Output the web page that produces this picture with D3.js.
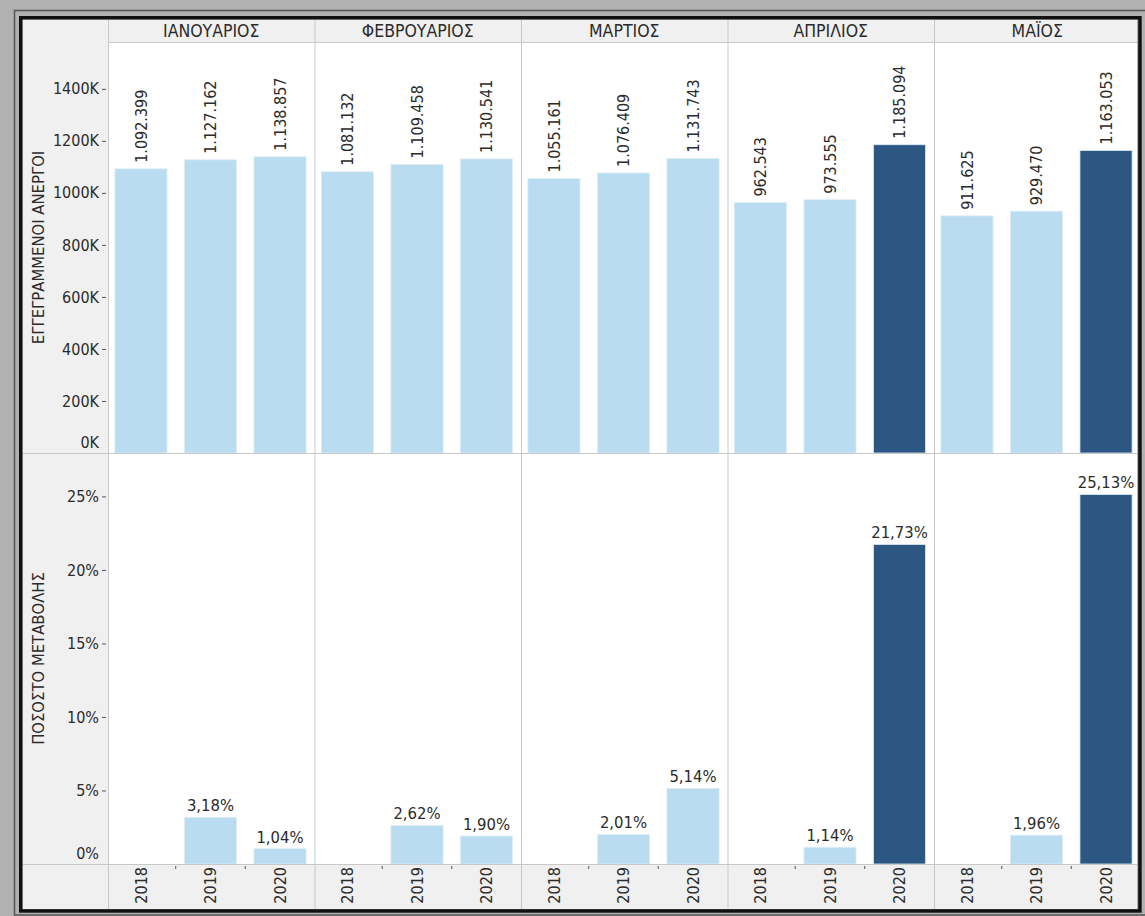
<!DOCTYPE html>
<html>
  <head>
    <meta charset="utf-8">
    <title>Εγγεγραμμένοι άνεργοι</title>
    <script type="text/javascript" src="https://d3js.org/d3.v7.min.js"></script>
    <style>
      body { margin: 0; background: #b1b1b1; }
      svg text { font-family: "DejaVu Sans Condensed", "DejaVu Sans", sans-serif; fill: #2b2b2b; }
    </style>
  </head>
  <body>
    <script type="text/javascript">

      // data
      var months = ["ΙΑΝΟΥΑΡΙΟΣ", "ΦΕΒΡΟΥΑΡΙΟΣ", "ΜΑΡΤΙΟΣ", "ΑΠΡΙΛΙΟΣ", "ΜΑΪΟΣ"];
      var years = ["2018", "2019", "2020"];
      var unemployed2018 = [1092399, 1081132, 1055161, 962543, 911625];
      var unemployed2019 = [1127162, 1109458, 1076409, 973555, 929470];
      var unemployed2020 = [1138857, 1130541, 1131743, 1185094, 1163053];
      var change2019 = [3.18, 2.62, 2.01, 1.14, 1.96];
      var change2020 = [1.04, 1.90, 5.14, 21.73, 25.13];
      var highlight2020 = [false, false, false, true, true];
      var topTicks = [0, 200000, 400000, 600000, 800000, 1000000, 1200000, 1400000];
      var bottomTicks = [0, 5, 10, 15, 20, 25];

      var width = 1145;
      var height = 916;

      // note: "top" is taken by window.top, so the edges get their own names
      var boxL = 22.5, boxT = 19.5, boxR = 1137, boxB = 909;
      var headerX = 108;
      var headerBottom = 42;
      var midY = 453;
      var plotBottom = 864;
      var panelW = 206.5;

      var lightBlue = "#b9dcf0";
      var darkBlue = "#2c5783";
      var gridColor = "#c8c8c8";

      var rows = [];
      for (var i = 0; i < months.length; i++) {
        rows.push({month: months[i], year: "2018", value: unemployed2018[i], change: null, dark: false});
        rows.push({month: months[i], year: "2019", value: unemployed2019[i], change: change2019[i], dark: false});
        rows.push({month: months[i], year: "2020", value: unemployed2020[i], change: change2020[i], dark: highlight2020[i]});
      }

      var locale = d3.formatLocale({decimal: ",", thousands: ".", grouping: [3], currency: ["", "€"]});
      var fmtValue = locale.format(",d");
      var fmtPct = locale.format(".2f");

      var svg = d3.select("body")
        .append("svg")
        .attr("width", width)
        .attr("height", height)
        .style("display", "block");

      // window frame
      svg.append("rect")
        .attr("x", 0).attr("y", 0)
        .attr("width", width).attr("height", height)
        .attr("fill", "#b1b1b1");
      svg.append("rect")
        .attr("x", 14.5).attr("y", 10.5)
        .attr("width", 1135).attr("height", 904.5)
        .attr("fill", "none")
        .attr("stroke", "#555")
        .attr("stroke-width", 1.5);
      svg.append("rect")
        .attr("x", boxL).attr("y", boxT)
        .attr("width", boxR - boxL).attr("height", boxB - boxT)
        .attr("fill", "#f0f0f0");

      var xPanel = d3.scaleBand()
        .domain(months)
        .range([headerX, headerX + panelW * months.length]);

      var xYear = d3.scaleBand()
        .domain(years)
        .range([0, panelW])
        .paddingInner(0.25)
        .paddingOuter(0.11)
        .align(0.45);

      var yTop = d3.scaleLinear().domain([0, 1580000]).range([midY, headerBottom]);
      var yBot = d3.scaleLinear().domain([0, 27.95]).range([plotBottom, midY]);

      svg.append("clipPath").attr("id", "clip")
        .append("rect")
        .attr("x", boxL).attr("y", boxT)
        .attr("width", boxR - boxL).attr("height", boxB - boxT);
      var content = svg.append("g").attr("clip-path", "url(#clip)");

      // white plot area
      content.append("rect")
        .attr("x", headerX).attr("y", headerBottom)
        .attr("width", boxR - headerX).attr("height", plotBottom - headerBottom)
        .attr("fill", "#fff");

      function barX(d) { return xPanel(d.month) + xYear(d.year); }

      // upper bars
      content.selectAll(".bar-top")
        .data(rows)
        .enter()
        .append("rect")
        .attr("class", "bar-top")
        .attr("x", barX)
        .attr("y", function(d) { return yTop(d.value); })
        .attr("width", xYear.bandwidth())
        .attr("height", function(d) { return midY - yTop(d.value); })
        .attr("fill", function(d) { return d.dark ? darkBlue : lightBlue; })
        .attr("stroke", "#dcecf8")
        .attr("stroke-width", 0.8);

      content.selectAll(".lbl-top")
        .data(rows)
        .enter()
        .append("text")
        .attr("class", "lbl-top")
        .attr("transform", function(d) {
          return "translate(" + (barX(d) + xYear.bandwidth() / 2) + "," + (yTop(d.value) - 6) + ") rotate(-90)";
        })
        .attr("dy", "0.35em")
        .style("font-size", "16px")
        .text(function(d) { return fmtValue(d.value); });

      // lower bars
      var changeRows = rows.filter(function(d) { return d.change !== null; });
      content.selectAll(".bar-bot")
        .data(changeRows)
        .enter()
        .append("rect")
        .attr("class", "bar-bot")
        .attr("x", barX)
        .attr("y", function(d) { return yBot(d.change); })
        .attr("width", xYear.bandwidth())
        .attr("height", function(d) { return plotBottom - yBot(d.change); })
        .attr("fill", function(d) { return d.dark ? darkBlue : lightBlue; })
        .attr("stroke", "#dcecf8")
        .attr("stroke-width", 0.8);

      content.selectAll(".lbl-bot")
        .data(changeRows)
        .enter()
        .append("text")
        .attr("class", "lbl-bot")
        .attr("x", function(d) { return barX(d) + xYear.bandwidth() / 2; })
        .attr("y", function(d) { return yBot(d.change) - 6; })
        .attr("text-anchor", "middle")
        .style("font-size", "16.5px")
        .text(function(d) { return fmtPct(d.change) + "%"; });

      // grid lines
      content.append("g")
        .selectAll("line")
        .data(months)
        .enter()
        .append("line")
        .attr("x1", function(d) { return xPanel(d) + 0.5; })
        .attr("x2", function(d) { return xPanel(d) + 0.5; })
        .attr("y1", boxT).attr("y2", boxB)
        .attr("stroke", gridColor);
      [headerBottom, midY, plotBottom].forEach(function(yy, i) {
        content.append("line")
          .attr("x1", i == 0 ? headerX : boxL).attr("x2", boxR)
          .attr("y1", yy + 0.5).attr("y2", yy + 0.5)
          .attr("stroke", gridColor);
      });

      // month headers
      content.selectAll(".month")
        .data(months)
        .enter()
        .append("text")
        .attr("class", "month")
        .attr("x", function(d) { return xPanel(d) + panelW / 2; })
        .attr("y", 31)
        .attr("dy", "0.35em")
        .attr("text-anchor", "middle")
        .style("font-size", "17.5px")
        .text(function(d) { return d; });

      // year axis at the bottom, one per panel
      months.forEach(function(m) {
        var g = content.append("g")
          .attr("transform", "translate(" + xPanel(m) + "," + plotBottom + ")");
        g.selectAll("text")
          .data(years)
          .enter()
          .append("text")
          .attr("transform", function(d) {
            return "translate(" + (xYear(d) + xYear.bandwidth() / 2) + ",3) rotate(-90)";
          })
          .attr("dy", "0.35em")
          .attr("text-anchor", "end")
          .style("font-size", "16px")
          .text(function(d) { return d; });
        g.selectAll("line")
          .data(years.slice(1))
          .enter()
          .append("line")
          .attr("x1", function(d) { return xYear(d) - xYear.step() * xYear.paddingInner() / 2; })
          .attr("x2", function(d) { return xYear(d) - xYear.step() * xYear.paddingInner() / 2; })
          .attr("y1", 2).attr("y2", 5)
          .attr("stroke", "#555");
      });

      // y axes
      var axisTop = content.append("g")
        .attr("transform", "translate(106,0)")
        .call(d3.axisLeft(yTop).tickValues(topTicks).tickSize(4).tickPadding(3)
          .tickFormat(function(d) { return (d / 1000) + "K"; }));
      var axisBot = content.append("g")
        .attr("transform", "translate(106,0)")
        .call(d3.axisLeft(yBot).tickValues(bottomTicks).tickSize(4).tickPadding(3)
          .tickFormat(function(d) { return d + "%"; }));

      [axisTop, axisBot].forEach(function(ax) {
        ax.attr("font-family", null).attr("font-size", null);
        ax.select(".domain").remove();
        ax.selectAll(".tick line").attr("stroke", "#555");
        ax.selectAll(".tick text")
          .attr("fill", "#2b2b2b")
          .style("font-size", "16px");
        // the zero label sits above the baseline, without a tick
        ax.selectAll(".tick").filter(function(d) { return d === 0; })
          .each(function() {
            d3.select(this).select("line").remove();
            d3.select(this).select("text").attr("y", -11);
          });
      });

      // axis titles
      content.append("text")
        .attr("transform", "translate(38," + ((headerBottom + midY) / 2) + ") rotate(-90)")
        .attr("dy", "0.35em")
        .attr("text-anchor", "middle")
        .style("font-size", "16.5px")
        .text("ΕΓΓΕΓΡΑΜΜΕΝΟΙ ΑΝΕΡΓΟΙ");
      content.append("text")
        .attr("transform", "translate(38," + ((midY + plotBottom) / 2) + ") rotate(-90)")
        .attr("dy", "0.35em")
        .attr("text-anchor", "middle")
        .style("font-size", "16.5px")
        .text("ΠΟΣΟΣΤΟ ΜΕΤΑΒΟΛΗΣ");

      // thick black border
      svg.append("rect")
        .attr("x", 20.75).attr("y", 17.75)
        .attr("width", 1119.2).attr("height", 893.2)
        .attr("fill", "none")
        .attr("stroke", "#111")
        .attr("stroke-width", 3.5);

    </script>
  </body>
</html>
